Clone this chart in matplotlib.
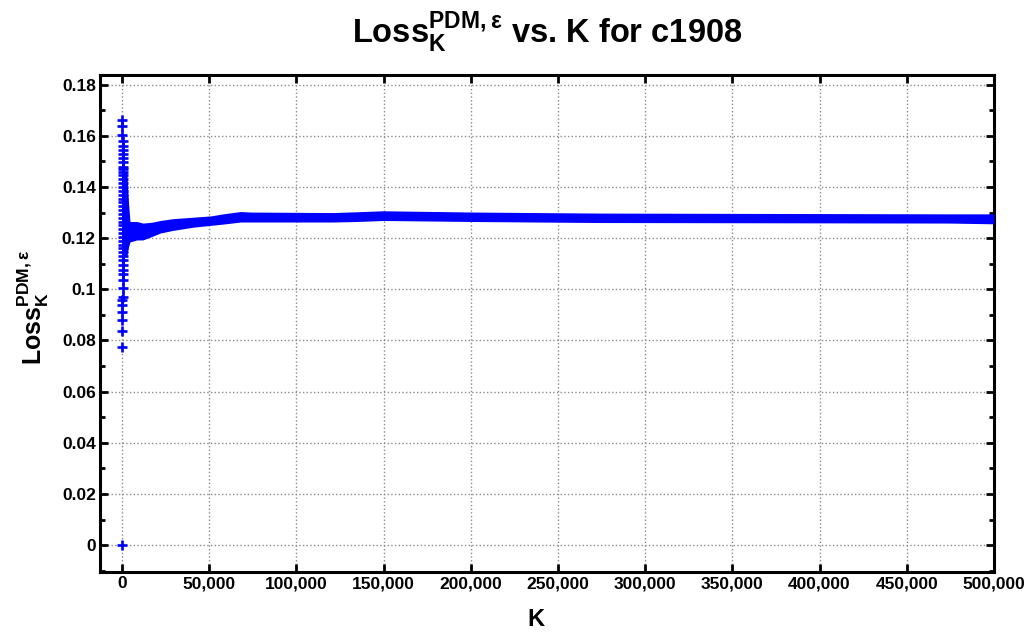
import matplotlib

matplotlib.use("Agg")
import matplotlib.pyplot as plt
from matplotlib.ticker import FuncFormatter, MultipleLocator

plt.rcParams["font.family"] = ["Liberation Sans", "DejaVu Sans"]
plt.rcParams["font.weight"] = "bold"
plt.rcParams["mathtext.default"] = "regular"

# early scatter right after K = 0 (isolated '+' markers and the dense blob)
spike_k_hi = [120, 180, 240, 300, 360, 420, 480, 540, 600, 660, 720]
spike_hi = [0.1663, 0.1637, 0.1604, 0.1578, 0.1562, 0.1546, 0.1530, 0.1513,
            0.1497, 0.1480, 0.1470]
blob_k = [400, 400, 400, 400, 400, 400, 400, 400, 400, 400, 400, 400,
          400, 400, 400, 400, 400, 400, 400, 400, 400, 400, 400]
blob = [0.1460, 0.1445, 0.1430, 0.1415, 0.1400, 0.1385, 0.1370, 0.1355,
        0.1340, 0.1325, 0.1310, 0.1295, 0.1280, 0.1265, 0.1250, 0.1235,
        0.1220, 0.1205, 0.1190, 0.1175, 0.1160, 0.1145, 0.1130]
spike_k_lo = [700, 640, 580, 520, 460, 400, 340, 280, 240, 200, 160, 120, 80, 1]
spike_lo = [0.1115, 0.1096, 0.1076, 0.1058, 0.1037, 0.1004, 0.0971, 0.0958,
            0.0939, 0.0913, 0.0880, 0.0838, 0.0776, 0.0]

# envelope of the dense band of '+' markers for the rest of the run
band_k = [0, 2800, 3600, 4600, 8600, 12000, 17000, 22000, 29000, 41000,
          51000, 58000, 68000, 74000, 121000, 134000, 150000, 202000,
          275000, 474000, 500000]
band_hi = [0.1461, 0.1461, 0.1350, 0.1265, 0.1265, 0.1259, 0.1262, 0.1269,
           0.1276, 0.1282, 0.1287, 0.1295, 0.1304, 0.1302, 0.1300, 0.1303,
           0.1307, 0.1302, 0.1298, 0.1295, 0.1295]
band_lo = [0.1130, 0.1128, 0.1162, 0.1185, 0.1193, 0.1193, 0.1206, 0.1220,
           0.1230, 0.1243, 0.1250, 0.1255, 0.1263, 0.1263, 0.1263, 0.1265,
           0.1269, 0.1265, 0.1261, 0.1259, 0.1256]

x_ticks = [0, 50000, 100000, 150000, 200000, 250000, 300000, 350000,
           400000, 450000, 500000]
y_ticks = [0, 0.02, 0.04, 0.06, 0.08, 0.1, 0.12, 0.14, 0.16, 0.18]

BLUE = "#0000FF"
LOSS = r"$\mathregular{Loss}_{\mathregular{K}}^{\mathregular{PDM,\varepsilon}}$"

fig = plt.figure(figsize=(10.31, 6.32), dpi=100)
ax = fig.add_axes([0.097, 0.095, 0.867, 0.786])

ax.fill_between(band_k, band_lo, band_hi, color=BLUE, linewidth=0, zorder=3)
mk = dict(marker="+", linestyle="none", color=BLUE, markersize=7.5,
          markeredgewidth=1.9, zorder=4)
ax.plot(spike_k_hi, spike_hi, **mk)
ax.plot(blob_k, blob, **mk)
ax.plot(spike_k_lo, spike_lo, **mk)

ax.set_xlim(-12600, 500000)
ax.set_ylim(-0.0105, 0.1837)
ax.set_xticks(x_ticks)
ax.set_yticks(y_ticks)
ax.yaxis.set_minor_locator(MultipleLocator(0.01))
ax.xaxis.set_major_formatter(FuncFormatter(lambda v, p: f"{int(v):,}"))
ax.yaxis.set_major_formatter(FuncFormatter(lambda v, p: f"{v:g}"))

ax.grid(True, which="major", color="#8C8C8C", linestyle=":", linewidth=1.0)
ax.set_axisbelow(True)
for spine in ax.spines.values():
    spine.set_linewidth(2.2)
ax.tick_params(which="both", direction="in", top=True, right=True,
               labelsize=12.5, pad=3)
ax.tick_params(which="major", length=6, width=2)
ax.tick_params(which="minor", length=3.5, width=2)

ax.set_title(LOSS + " vs. K for c1908", fontsize=23.5, fontweight="bold", pad=23)
ax.set_xlabel("K", fontsize=17, fontweight="bold")
ax.xaxis.set_label_coords(0.488, -0.072)
ax.set_ylabel(LOSS, fontsize=18, fontweight="bold")
ax.yaxis.set_label_coords(-0.055, 0.534)

fig.savefig("out.png", dpi=100, facecolor="white")
